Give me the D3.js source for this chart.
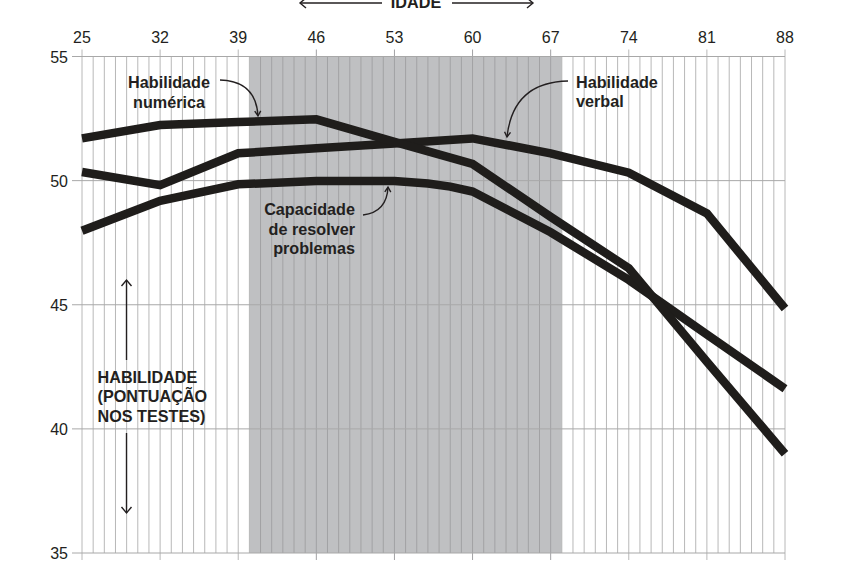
<!DOCTYPE html>
<html>
<head>
<meta charset="utf-8">
<script src="https://cdn.jsdelivr.net/npm/d3@7"></script>
<style>
	html, body { margin: 0; padding: 0; background: #fff; }
	svg { display: block; font-family: "Liberation Sans", Arial, sans-serif; }
</style>
</head>
<body>
<svg id="chart" width="865" height="569"></svg>
<script>
// ages on the top axis and the values
const tickAges = [25, 32, 39, 46, 53, 60, 67, 74, 81, 88];
const yTicks = [35, 40, 45, 50, 55];
const shadedAges = [40, 68];

const numericaAges = [25, 32, 39, 46, 53, 60, 67, 74, 81, 88];
const numericaValues = [51.70, 52.24, 52.36, 52.47, 51.56, 50.67, 48.54, 46.47, 42.70, 39.00];

const verbalAges = [25, 32, 39, 46, 53, 60, 67, 74, 81, 88];
const verbalValues = [50.35, 49.82, 51.10, 51.30, 51.50, 51.70, 51.10, 50.32, 48.68, 44.85];

const problemasAges = [25, 32, 39, 46, 53, 56, 58, 60, 67, 74, 81, 88];
const problemasValues = [47.98, 49.19, 49.85, 49.98, 49.98, 49.88, 49.76, 49.56, 47.92, 46.00, 43.80, 41.62];

const svg = d3.select('#chart');
const ink = '#1f1d1b';
const textInk = '#231f20';

const x = d3.scaleLinear().domain([25, 88]).range([82, 785]);
const y = d3.scaleLinear().domain([35, 55]).range([553, 56.5]);

// shaded age band
svg.append('rect')
	.attr('x', x(shadedAges[0]))
	.attr('y', y(55))
	.attr('width', x(shadedAges[1]) - x(shadedAges[0]))
	.attr('height', y(35) - y(55))
	.attr('fill', '#bfc0c2');

// one vertical line per year
const years = d3.range(25, 89);
svg.append('g')
	.selectAll('line')
	.data(years)
	.join('line')
	.attr('x1', (d) => x(d)).attr('x2', (d) => x(d))
	.attr('y1', (d) => tickAges.includes(d) ? y(55) - 7 : y(55))
	.attr('y2', (d) => tickAges.includes(d) ? y(35) + 7 : y(35))
	.attr('stroke', (d) => (d > shadedAges[0] && d < shadedAges[1]) ? '#a2a2a4' : '#b8b8b8')
	.attr('stroke-width', 1);

// horizontal grid with left ticks
svg.append('g')
	.selectAll('line')
	.data(yTicks)
	.join('line')
	.attr('x1', x(25) - 10).attr('x2', x(88))
	.attr('y1', (d) => y(d)).attr('y2', (d) => y(d))
	.attr('stroke', '#a8a8a8')
	.attr('stroke-width', 1);

// top axis labels
svg.append('g')
	.selectAll('text')
	.data(tickAges)
	.join('text')
	.attr('x', (d) => x(d))
	.attr('y', 42.5)
	.attr('text-anchor', 'middle')
	.attr('font-size', 16)
	.attr('fill', textInk)
	.text((d) => d);

// left axis labels
svg.append('g')
	.selectAll('text')
	.data(yTicks)
	.join('text')
	.attr('x', 68)
	.attr('y', (d) => y(d) + 6)
	.attr('text-anchor', 'end')
	.attr('font-size', 16)
	.attr('fill', textInk)
	.text((d) => d);

// the three series
const line = d3.line().x((d) => x(d[0])).y((d) => y(d[1]));
const series = [
	d3.zip(problemasAges, problemasValues),
	d3.zip(verbalAges, verbalValues),
	d3.zip(numericaAges, numericaValues)
];
svg.append('g')
	.selectAll('path')
	.data(series)
	.join('path')
	.attr('d', line)
	.attr('fill', 'none')
	.attr('stroke', ink)
	.attr('stroke-width', 8.5)
	.attr('stroke-linejoin', 'miter')
	.attr('stroke-linecap', 'butt');

// open arrow head at (tx,ty) pointing along angle a
const arrowHead = function(g, tx, ty, a, len, half)
{
	const bx = tx - len * Math.cos(a), by = ty - len * Math.sin(a);
	const px = -Math.sin(a) * half, py = Math.cos(a) * half;
	g.append('path')
		.attr('d', `M${bx + px},${by + py}L${tx},${ty}L${bx - px},${by - py}`)
		.attr('fill', 'none')
		.attr('stroke', textInk)
		.attr('stroke-width', 1.4);
}

const ann = svg.append('g');

// curved pointers: start, control, end
const pointers = [
	[[220, 80], [256, 81], [258, 116]],
	[[568, 81], [513, 82], [507, 137]],
	[[363, 215], [387, 212], [388, 187]]
];
pointers.forEach(function(p)
{
	ann.append('path')
		.attr('d', `M${p[0][0]},${p[0][1]}Q${p[1][0]},${p[1][1]} ${p[2][0]},${p[2][1]}`)
		.attr('fill', 'none')
		.attr('stroke', textInk)
		.attr('stroke-width', 1.4);
	const a = Math.atan2(p[2][1] - p[1][1], p[2][0] - p[1][0]);
	arrowHead(ann, p[2][0], p[2][1], a, 5, 3);
});

// straight double arrows
const straight = [
	[382, 3, 300, 3], [452, 3, 533, 3],
	[126.5, 360, 126.5, 280], [126.5, 433, 126.5, 513]
];
straight.forEach(function(s)
{
	ann.append('line')
		.attr('x1', s[0]).attr('y1', s[1]).attr('x2', s[2]).attr('y2', s[3])
		.attr('stroke', textInk)
		.attr('stroke-width', 1.4);
	arrowHead(ann, s[2], s[3], Math.atan2(s[3] - s[1], s[2] - s[0]), 6, 5);
});

// labels
const labels = [
	{ x: 169, y: 88, anchor: 'middle', lines: ['Habilidade', 'numérica'], lh: 20 },
	{ x: 576, y: 88, anchor: 'start', lines: ['Habilidade', 'verbal'], lh: 19 },
	{ x: 355, y: 215, anchor: 'end', lines: ['Capacidade', 'de resolver', 'problemas'], lh: 19.5 },
	{ x: 97.5, y: 383, anchor: 'start', lines: ['HABILIDADE', '(PONTUAÇÃO', 'NOS TESTES)'], lh: 19.3 },
	{ x: 416, y: 8.3, anchor: 'middle', lines: ['IDADE'], lh: 0 }
];
labels.forEach(function(l)
{
	const t = ann.append('text')
		.attr('x', l.x)
		.attr('y', l.y)
		.attr('text-anchor', l.anchor)
		.attr('font-size', 16.2)
		.attr('font-weight', 'bold')
		.attr('fill', textInk);
	l.lines.forEach(function(s, i)
	{
		t.append('tspan').attr('x', l.x).attr('y', l.y + i * l.lh).text(s);
	});
});
</script>
</body>
</html>
